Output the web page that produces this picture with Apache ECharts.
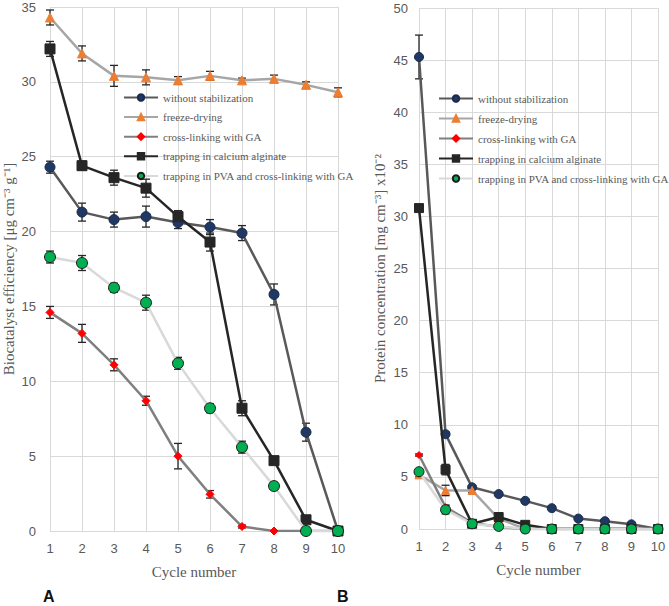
<!DOCTYPE html>
<html>
<head>
<meta charset="utf-8">
<script src="https://cdn.jsdelivr.net/npm/echarts@6/dist/echarts.min.js"></script>
<style>
html,body{margin:0;padding:0;background:#fff;}
#chart{width:669px;height:606px;}
</style>
</head>
<body>
<div id="chart"></div>
<script>
// ---------- data ----------
const cycles = [1,2,3,4,5,6,7,8,9,10];
const seriesNames = ['without stabilization','freeze-drying','cross-linking with GA','trapping in calcium alginate','trapping in PVA and cross-linking with GA'];

// Panel A: biocatalyst efficiency
const effWithout   = [24.3, 21.3, 20.8, 21.0, 20.6, 20.3, 19.9, 15.8, 6.6, 0];
const effWithoutErr= [0.4, 0.6, 0.5, 0.7, 0.4, 0.5, 0.5, 0.7, 0.6, 0];
const effFreeze    = [34.3, 31.9, 30.4, 30.3, 30.1, 30.4, 30.1, 30.2, 29.8, 29.3];
const effFreezeErr = [0.5, 0.5, 0.7, 0.5, 0.25, 0.3, 0.15, 0.25, 0.2, 0.3];
const effCross     = [14.6, 13.2, 11.1, 8.7, 5.0, 2.45, 0.3, 0, 0, 0];
const effCrossErr  = [0.4, 0.6, 0.4, 0.3, 0.85, 0.25, 0.1, 0, 0, 0];
const effCalcium   = [32.2, 24.4, 23.6, 22.9, 21.0, 19.3, 8.2, 4.7, 0.75, 0];
const effCalciumErr= [0.5, 0.3, 0.5, 0.6, 0.4, 0.6, 0.5, 0.2, 0.1, 0];
const effPVA       = [18.3, 17.9, 16.25, 15.25, 11.2, 8.2, 5.6, 3.0, 0, 0];
const effPVAErr    = [0.4, 0.5, 0.3, 0.5, 0.4, 0.3, 0.4, 0.1, 0, 0];

// Panel B: protein concentration
const protWithout   = [45.3, 9.1, 4.0, 3.35, 2.7, 2.0, 1.0, 0.75, 0.45, 0];
const protWithoutErr= [2.1, 0.2, 0.1, 0.1, 0.1, 0.1, 0.1, 0, 0, 0];
const protFreeze    = [5.2, 3.7, 3.7, 1.0, 0, 0, 0, 0, 0, 0];
const protFreezeErr = [0.2, 0.5, 0.2, 0, 0, 0, 0, 0, 0, 0];
const protCross     = [7.1, 2.1, 0.6, 0.2, 0, 0, 0, 0, 0, 0];
const protCrossErr  = [0.1, 0.2, 0, 0, 0, 0, 0, 0, 0, 0];
const protCalcium   = [30.8, 5.7, 0.5, 1.15, 0.4, 0, 0, 0, 0, 0];
const protCalciumErr= [0.2, 0.5, 0.1, 0.1, 0, 0, 0, 0, 0, 0];
const protPVA       = [5.5, 1.85, 0.5, 0.25, 0, 0, 0, 0, 0, 0];
const protPVAErr    = [0.2, 0.4, 0.1, 0, 0, 0, 0, 0, 0, 0];

const xTicks = [1,2,3,4,5,6,7,8,9,10];
const yTicksA = [0,5,10,15,20,25,30,35];
const yTicksB = [0,5,10,15,20,25,30,35,40,45,50];

// ---------- styles ----------
const styles = [
  {line:'#595959', marker:'#1F3864', border:'#1a2a4a', symbol:'circle', sizeA:10, sizeB:9},
  {line:'#A6A6A6', marker:'#ED7D31', border:'#ED7D31', symbol:'triangle', sizeA:9, sizeB:8},
  {line:'#7F7F7F', marker:'#FF0000', border:'#FF0000', symbol:'diamond', sizeA:8, sizeB:7},
  {line:'#262626', marker:'#262626', border:'#262626', symbol:'rect', sizeA:10, sizeB:9},
  {line:'#D9D9D9', marker:'#00B050', border:'#1a1a1a', symbol:'circle', sizeA:11, sizeB:10}
];

const dataA = [effWithout, effFreeze, effCross, effCalcium, effPVA];
const errA  = [effWithoutErr, effFreezeErr, effCrossErr, effCalciumErr, effPVAErr];
const dataB = [protWithout, protFreeze, protCross, protCalcium, protPVA];
const errB  = [protWithoutErr, protFreezeErr, protCrossErr, protCalciumErr, protPVAErr];

function pairs(vals){ return cycles.map((c,i)=>[c, vals[i]]); }
function errData(vals, errs){ return cycles.map((c,i)=>[c, vals[i]-errs[i], vals[i]+errs[i]]).filter((d,i)=>errs[i]>0); }

function errSeries(idx, vals, errs){
  return {
    type:'custom', xAxisIndex:idx, yAxisIndex:idx, silent:true, z:3,
    data: errData(vals, errs),
    encode:{x:0, y:[1,2]},
    renderItem: function(params, api){
      const x = api.value(0);
      const lo = api.coord([x, api.value(1)]);
      const hi = api.coord([x, api.value(2)]);
      const w = 4;
      const st = {stroke:'#262626', lineWidth:1.3};
      return {type:'group', children:[
        {type:'line', shape:{x1:lo[0],y1:lo[1],x2:hi[0],y2:hi[1]}, style:st},
        {type:'line', shape:{x1:lo[0]-w,y1:lo[1],x2:lo[0]+w,y2:lo[1]}, style:st},
        {type:'line', shape:{x1:hi[0]-w,y1:hi[1],x2:hi[0]+w,y2:hi[1]}, style:st}
      ]};
    }
  };
}

const series = [];
[0,1].forEach(function(g){
  const D = g===0 ? dataA : dataB;
  const E = g===0 ? errA : errB;
  for (let k=0;k<5;k++){
    series.push(errSeries(g, D[k], E[k]));
  }
  for (let k=0;k<5;k++){
    const s = styles[k];
    series.push({
      name: seriesNames[k], type:'line', xAxisIndex:g, yAxisIndex:g,
      data: pairs(D[k]), symbol:s.symbol, symbolSize: g===0?s.sizeA:s.sizeB,
      lineStyle:{color:s.line, width:2.5},
      itemStyle:{color:s.marker, borderColor:s.border, borderWidth:1},
      z: 4 + k, animation:false
    });
  }
});

const axisText = {color:'#595959', fontSize:13, fontFamily:'Liberation Sans, Arial, sans-serif'};
const titleFont = {color:'#595959', fontSize:15, fontFamily:'Liberation Serif, Times New Roman, serif'};
const gridLine = {show:true, lineStyle:{color:'#D9D9D9', width:1}};

function xAx(idx){
  return {type:'value', gridIndex:idx, min:1, max:10, interval:1,
    axisLine:{show:false}, axisTick:{show:false}, splitLine:gridLine,
    axisLabel:Object.assign({margin:11, formatter:function(v){return xTicks.indexOf(v)>=0? String(v):'';}}, axisText),
    name:'Cycle number', nameLocation:'middle', nameGap:33, nameTextStyle:titleFont};
}

const legendText = {color:'#595959', fontSize:11, fontFamily:'Liberation Serif, Times New Roman, serif'};

const option = {
  backgroundColor:'#ffffff',
  animation:false,
  grid:[
    {left:50, right:331, top:7, bottom:75},
    {left:419, right:11, top:8, bottom:77}
  ],
  xAxis:[xAx(0), xAx(1)],
  yAxis:[
    {type:'value', gridIndex:0, min:0, max:35, interval:5,
     axisLine:{show:false}, axisTick:{show:false}, splitLine:gridLine,
     axisLabel:Object.assign({margin:14}, axisText),
     name:'Biocatalyst efficiency [μg cm⁻³ g⁻¹]', nameLocation:'middle', nameRotate:90, nameGap:34, nameTextStyle:titleFont},
    {type:'value', gridIndex:1, min:0, max:50, interval:5,
     axisLine:{show:false}, axisTick:{show:false}, splitLine:gridLine,
     axisLabel:Object.assign({margin:11}, axisText),
     name:'Protein concentration [mg cm⁻³] x10⁻²', nameLocation:'middle', nameRotate:90, nameGap:32, nameTextStyle:titleFont}
  ],
  legend:[
    {data:seriesNames, orient:'vertical', left:118, top:87, itemWidth:34, itemHeight:8, itemGap:8.6,
     textStyle:legendText, selectedMode:false},
    {data:seriesNames, orient:'vertical', left:433, top:88, itemWidth:34, itemHeight:8, itemGap:9,
     textStyle:legendText, selectedMode:false}
  ],
  graphic:[
    {type:'text', left:43, top:588, style:{text:'A', fill:'#111', font:'bold 16px Liberation Sans, Arial, sans-serif'}},
    {type:'text', left:337, top:588, style:{text:'B', fill:'#111', font:'bold 16px Liberation Sans, Arial, sans-serif'}}
  ],
  series:series
};

const chart = echarts.init(document.getElementById('chart'), null, {renderer:'svg'});
chart.setOption(option);
</script>
</body>
</html>
